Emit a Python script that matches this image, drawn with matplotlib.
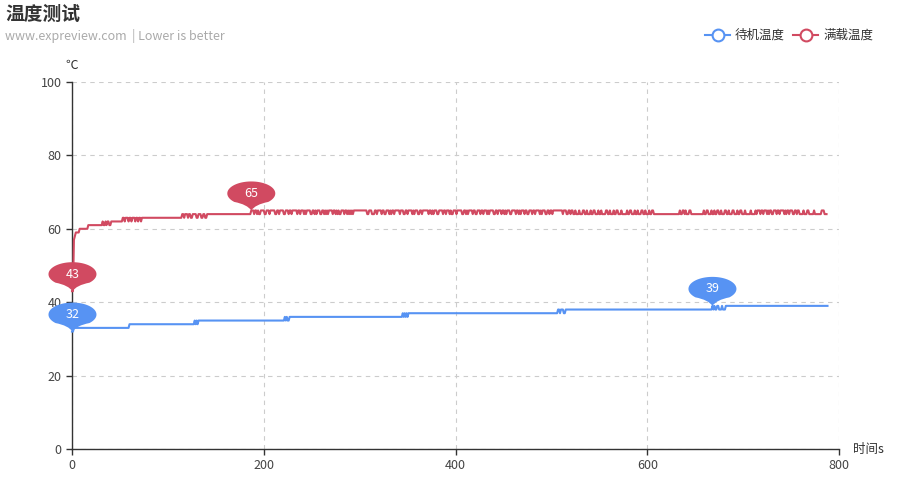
import numpy as np
import matplotlib
matplotlib.use('Agg')
import matplotlib.pyplot as plt
from matplotlib.path import Path
from matplotlib.patches import PathPatch
from matplotlib.lines import Line2D
from matplotlib.transforms import Affine2D, ScaledTranslation

plt.rcParams['font.family'] = ['Noto Sans CJK SC', 'DejaVu Sans']

# Data: (temperature, seconds) runs, one sample per second
idle_runs = [(32, 2), (33, 58), (34, 68), (35, 1), (34, 1), (35, 1), (34, 1), (35, 90),
             (36, 1), (35, 1), (36, 1), (35, 2), (36, 118),
             (37, 1), (36, 1), (37, 1), (36, 1), (37, 1), (36, 1), (37, 156),
             (38, 2), (37, 1), (38, 3), (37, 2), (38, 153),
             (39, 1), (38, 1), (39, 1), (38, 2), (39, 2), (38, 3), (39, 1), (38, 3), (39, 107)]

load_head_runs = [(43, 2), (57, 1), (58, 1), (59, 4), (60, 9), (61, 15),
                  (62, 1), (61, 2), (62, 1), (61, 1), (62, 2), (61, 2), (62, 12),
                  (63, 2), (62, 1), (63, 3), (62, 1), (63, 2), (62, 1), (63, 3), (62, 1),
                  (63, 2), (62, 1), (63, 2), (62, 1), (63, 2), (63, 40),
                  (64, 2), (63, 1), (64, 3), (63, 1), (64, 2), (63, 2), (64, 4), (63, 2),
                  (64, 3), (63, 2), (64, 2), (63, 2), (64, 46)]

# after t=187 the full-load reading flickers between 65 and 64 (run lengths, starting at 65)
load_tail_levels = [65, 64]
load_tail_runs = [3, 1, 2, 1, 1, 2, 4, 2, 3, 1, 5, 2, 2, 1, 4, 2, 3, 1, 2, 1,
                  5, 1, 2, 1, 3, 1, 1, 1, 4, 2, 2, 1, 1, 1, 3, 2, 2, 1, 1, 1,
                  1, 1, 4, 1, 2, 1, 1, 1, 1, 2, 3, 1, 2, 1, 1, 1, 1, 1, 1, 1,
                  14, 2, 3, 3, 2, 1, 4, 1, 2, 2, 3, 1, 1, 1, 2, 1, 5, 1, 3, 2,
                  2, 1, 4, 1, 1, 1, 3, 2, 2, 1, 6, 1, 2, 1, 1, 1, 3, 2, 4, 1,
                  2, 1, 3, 1, 1, 2, 3, 1, 5, 2, 2, 1, 1, 1, 4, 1, 2, 2, 3, 1,
                  2, 1, 3, 1, 1, 1, 4, 2, 2, 1, 3, 1, 2, 1, 1, 1, 3, 2, 4, 1,
                  2, 1, 1, 1, 3, 1, 2, 2, 3, 1, 2, 1, 4, 1, 1, 1, 3, 2, 2, 1, 2, 1, 10,
                  1, 3, 2, 2, 1, 2, 2, 1,
                  3, 1, 3, 2, 2, 1, 3, 1, 2, 2, 3, 1, 2, 1, 4, 2, 2, 1, 3, 1,
                  2, 2, 3, 1, 5, 1, 2, 2, 3, 1, 2, 1, 3, 2, 2, 1, 3, 1, 2, 2,
                  27, 1, 2, 2, 1, 1, 3, 2, 13,
                  1, 2, 2, 3, 1, 2, 1, 2, 2, 2,
                  1, 3, 2, 2, 1, 3, 2, 3, 1, 2, 2, 3, 1, 5,
                  1, 4, 1, 1,
                  3, 1, 2, 1, 3, 1, 1, 1, 2, 2, 3, 1, 2, 1, 4, 1, 1, 1, 2, 1, 3, 2,
                  2, 1, 2, 4, 1, 3, 2, 5, 1, 7, 3, 3]

pins = [('idle', 0.5, 32), ('idle', 668, 39), ('load', 0.5, 43), ('load', 187, 65)]

blue = '#5793f3'
red = '#d14a61'

idle = np.concatenate([np.repeat(v, n) for v, n in idle_runs])
load_head = np.concatenate([np.repeat(v, n) for v, n in load_head_runs])
load_tail = np.concatenate([np.repeat(load_tail_levels[i % 2], n) for i, n in enumerate(load_tail_runs)])
load = np.concatenate([load_head, load_tail])
t_idle = np.arange(len(idle))
t_load = np.arange(len(load))

fig = plt.figure(figsize=(8.99, 4.8), dpi=100)
W, H = 899, 480
ax = fig.add_axes([72 / W, 31 / H, 767 / W, 367 / H])

ax.plot(t_idle, idle, color=blue, lw=1.5, zorder=5, solid_joinstyle='round', clip_on=False)
ax.plot(t_load, load, color=red, lw=1.5, zorder=5, solid_joinstyle='round', clip_on=False)

ax.set_xlim(0, 800)
ax.set_ylim(0, 100)
ax.set_xticks(range(0, 801, 200))
ax.set_yticks(range(0, 101, 20))
ax.grid(True, ls=(0, (4, 4)), color='#cccccc', lw=0.8, zorder=0)
for s in ['top', 'right']:
    ax.spines[s].set_visible(False)
for s in ['left', 'bottom']:
    ax.spines[s].set_color('#333333')
    ax.spines[s].set_linewidth(1)
    ax.spines[s].set_zorder(4)
ax.tick_params(colors='#333333', labelcolor='#444444', labelsize=9, length=4, width=1)


def draw_pin(x, y, label, color):
    a = np.linspace(np.radians(-45), np.radians(225), 60)
    bx = 24 * np.cos(a)
    by = 17 + 12 * np.sin(a)
    verts = list(zip(bx, by)) + [(-4, 6), (0, 0), (4, 6), (bx[0], by[0])]
    codes = [Path.MOVETO] + [Path.LINETO] * 59 + [Path.CURVE3] * 4
    trans = Affine2D().scale(1 / fig.dpi) + fig.dpi_scale_trans + ScaledTranslation(x, y, ax.transData)
    patch = PathPatch(Path(verts, codes), facecolor=color, edgecolor='none',
                      transform=trans, clip_on=False, zorder=6)
    ax.add_artist(patch)
    ax.annotate(label, (x, y), xytext=(0, 17 * 0.72), textcoords='offset points',
                ha='center', va='center', color='white', fontsize=9, zorder=7,
                annotation_clip=False)


for series, x, y in pins:
    draw_pin(x, y, str(y), blue if series == 'idle' else red)

# titles and axis names
fig.text(5 / W, 1 - 14 / H, '温度测试', fontsize=13.5, weight='bold', color='#333333', va='center')
fig.text(5 / W, 1 - 36 / H, 'www.expreview.com  | Lower is better', fontsize=9, color='#aaaaaa', va='center')
fig.text(72 / W, 1 - 65 / H, '℃', fontsize=9, color='#333333', ha='center', va='center')
fig.text(853 / W, 1 - 449 / H, '时间s', fontsize=9, color='#333333', ha='left', va='center')

# legend
for x0, name, color in [(705, '待机温度', blue), (793, '满载温度', red)]:
    yy = 1 - 35 / H
    fig.add_artist(Line2D([x0 / W, (x0 + 25) / W], [yy, yy], color=color, lw=1.5,
                          transform=fig.transFigure))
    fig.add_artist(Line2D([(x0 + 12.5) / W], [yy], marker='o', markersize=8.5,
                          markerfacecolor='white', markeredgecolor=color, markeredgewidth=1.5,
                          transform=fig.transFigure))
    fig.text((x0 + 30) / W, yy, name, fontsize=9, color='#333333', va='center')

fig.savefig('out.png', dpi=100)
